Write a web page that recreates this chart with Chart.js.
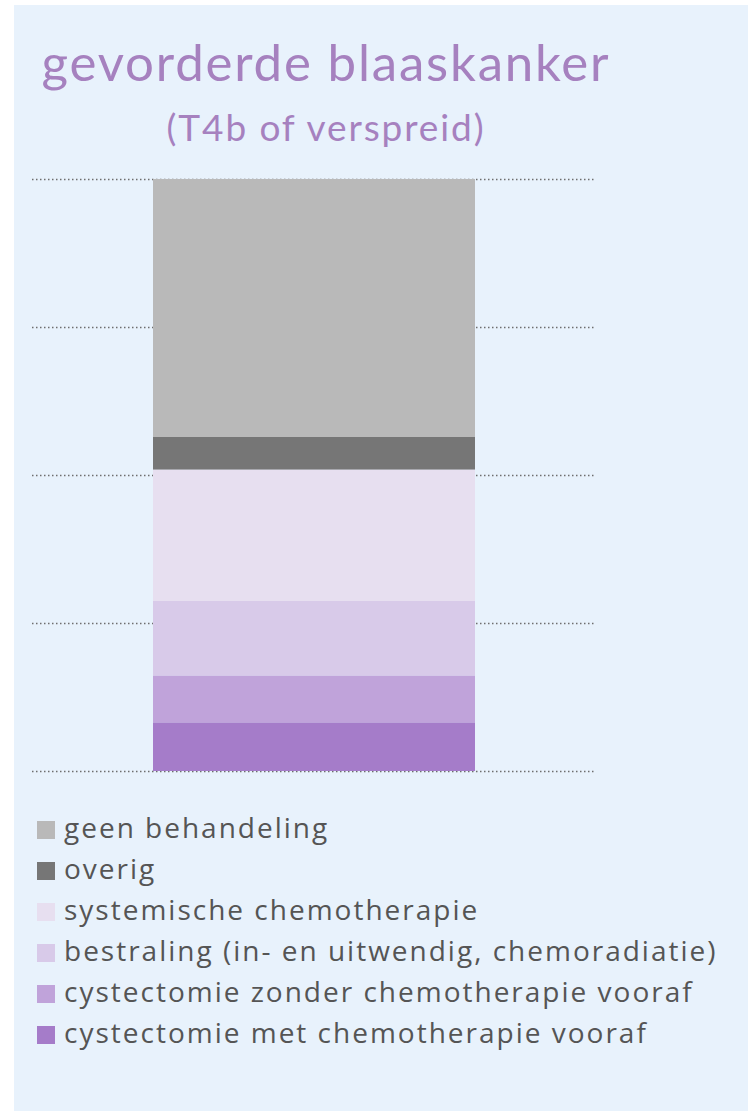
<!DOCTYPE html>
<html lang="nl">
<head>
<meta charset="utf-8">
<title>gevorderde blaaskanker</title>
<script src="https://cdn.jsdelivr.net/npm/chart.js@4/dist/chart.umd.min.js"></script>
<style>
  html, body { margin: 0; padding: 0; background: #fff; }
  .panel {
    position: absolute; left: 14px; top: 5px; width: 734px; height: 1106px;
    background: #e8f2fc; overflow: hidden;
  }
  .title, .subtitle {
    position: absolute; left: 0; width: 624px; text-align: center;
    color: #a681bf; font-family: Lato, "Open Sans", sans-serif; font-weight: 400;
    white-space: nowrap; line-height: 1;
  }
  .title { top: 31px; font-size: 51px; letter-spacing: 1.8px; }
  .subtitle { top: 103px; font-size: 37px; letter-spacing: 1.9px; }
  #chartWrap { position: absolute; left: 0; top: 0; width: 734px; height: 800px; }
  #legend {
    position: absolute; left: 23px; top: 802px; margin: 0; padding: 0; list-style: none;
    font-family: "Open Sans", sans-serif; font-size: 28px; letter-spacing: 2px; color: #555;
  }
  #legend li { height: 41px; line-height: 41px; white-space: nowrap; }
  #legend span.box {
    display: inline-block; width: 18px; height: 18px; margin-right: 9px; vertical-align: -1px;
  }
</style>
</head>
<body>
<div class="panel">
  <div class="title">gevorderde blaaskanker</div>
  <div class="subtitle">(T4b of verspreid)</div>
  <div id="chartWrap"><canvas id="treatmentChart"></canvas></div>
  <ul id="legend"></ul>
</div>
<script>
// one stacked column, treatments listed from the bottom of the stack upwards
const categories = ['gevorderde blaaskanker'];
const treatments = [
    'cystectomie met chemotherapie vooraf',
    'cystectomie zonder chemotherapie vooraf',
    'bestraling (in- en uitwendig, chemoradiatie)',
    'systemische chemotherapie',
    'overig',
    'geen behandeling'
];
const shares = [8.2, 7.9, 12.6, 22.2, 5.5, 43.6];
const colors = ['#a57cc9', '#c0a3da', '#d8cae9', '#e7dff0', '#767676', '#b9b9b9'];
const yTicks = [0, 25, 50, 75, 100];

document.addEventListener("DOMContentLoaded", () => {
    const ctx = document.getElementById('treatmentChart').getContext('2d');

    const datasets = treatments.map((name, i) => ({
        label: name,
        data: [shares[i]],
        backgroundColor: colors[i],
        borderWidth: 0,
        barPercentage: 1,
        categoryPercentage: 0.575
    }));

    new Chart(ctx, {
        type: 'bar',
        data: { labels: categories, datasets: datasets },
        options: {
            responsive: true,
            maintainAspectRatio: false,
            animation: false,
            layout: { padding: { left: 20, right: 154, top: 174, bottom: 34 } },
            scales: {
                x: { stacked: true, display: false },
                y: {
                    stacked: true,
                    min: 0,
                    max: 100,
                    afterBuildTicks: scale => { scale.ticks = yTicks.map(v => ({ value: v })); },
                    afterFit: scale => { scale.width = 0; },
                    ticks: { display: false },
                    border: { display: false },
                    grid: { display: false }
                }
            },
            plugins: {
                legend: { display: false },
                tooltip: { enabled: false }
            }
        },
        plugins: [{
            // dotted horizontal guides at the y ticks, behind the bar
            id: 'dottedGrid',
            beforeDatasetsDraw(chart) {
                const { ctx, chartArea, scales } = chart;
                ctx.save();
                ctx.strokeStyle = '#6e6e6e';
                ctx.lineWidth = 1.3;
                ctx.setLineDash([1.5, 2.5]);
                yTicks.forEach(v => {
                    const y = Math.round(scales.y.getPixelForValue(v)) + 0.5;
                    ctx.beginPath();
                    ctx.moveTo(chartArea.left - 2, y);
                    ctx.lineTo(chartArea.right, y);
                    ctx.stroke();
                });
                ctx.restore();
            }
        }]
    });

    // legend: top of the stack first
    const legend = document.getElementById('legend');
    for (let i = treatments.length - 1; i >= 0; i--) {
        const li = document.createElement('li');
        const box = document.createElement('span');
        box.className = 'box';
        box.style.background = colors[i];
        li.appendChild(box);
        li.appendChild(document.createTextNode(treatments[i]));
        legend.appendChild(li);
    }
});
</script>
</body>
</html>
